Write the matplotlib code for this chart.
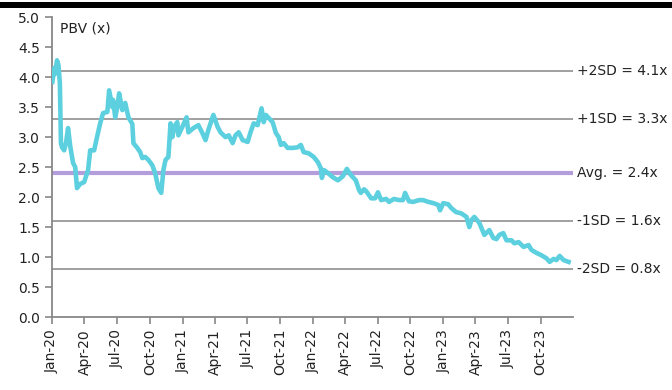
import matplotlib
matplotlib.use('Agg')
import matplotlib.pyplot as plt
import matplotlib.dates as mdates
import pandas as pd

# PBV history (x), sampled off the daily series
dates=['2020-01-02','2020-01-07','2020-01-09','2020-01-15','2020-01-19','2020-01-23','2020-01-26','2020-01-29',
	'2020-02-04','2020-02-09','2020-02-15','2020-02-21','2020-02-29','2020-03-06','2020-03-11','2020-03-20',
	'2020-03-31','2020-04-11','2020-04-17','2020-04-28','2020-05-06','2020-05-15','2020-05-23','2020-06-04',
	'2020-06-09','2020-06-18','2020-06-20','2020-06-26','2020-07-02','2020-07-07','2020-07-16','2020-07-24',
	'2020-08-02','2020-08-13','2020-08-16','2020-08-27','2020-09-04','2020-09-10','2020-09-18','2020-09-27',
	'2020-10-08','2020-10-16','2020-10-25','2020-11-02','2020-11-08','2020-11-14','2020-11-22','2020-11-28',
	'2020-12-03','2020-12-09','2020-12-17','2020-12-20','2020-12-31','2021-01-12','2021-01-17','2021-01-31',
	'2021-02-14','2021-02-25','2021-03-06','2021-03-14','2021-03-28','2021-04-09','2021-04-17','2021-05-01',
	'2021-05-10','2021-05-21','2021-05-29','2021-06-07','2021-06-18','2021-07-02','2021-07-10','2021-07-19',
	'2021-07-30','2021-08-10','2021-08-16','2021-08-22','2021-08-30','2021-09-10','2021-09-19','2021-09-27',
	'2021-10-03','2021-10-11','2021-10-22','2021-11-05','2021-11-19','2021-11-28','2021-12-06','2021-12-20',
	'2022-01-03','2022-01-15','2022-01-23','2022-01-26','2022-02-01','2022-02-12','2022-02-26','2022-03-12',
	'2022-03-26','2022-04-06','2022-04-17','2022-05-01','2022-05-10','2022-05-15','2022-05-24','2022-05-30',
	'2022-06-13','2022-06-24','2022-07-02','2022-07-11','2022-07-25','2022-08-02','2022-08-16','2022-08-30',
	'2022-09-10','2022-09-16','2022-09-27','2022-10-09','2022-10-25','2022-11-06','2022-11-20','2022-12-04',
	'2022-12-18','2022-12-23','2023-01-01','2023-01-15','2023-01-23','2023-02-06','2023-02-20','2023-03-07',
	'2023-03-15','2023-03-21','2023-03-29','2023-04-12','2023-04-26','2023-05-10','2023-05-21','2023-05-30',
	'2023-06-07','2023-06-18','2023-06-27','2023-07-11','2023-07-19','2023-07-31','2023-08-14','2023-08-28',
	'2023-09-05','2023-09-19','2023-10-03','2023-10-17','2023-10-26','2023-11-06','2023-11-14','2023-11-23',
	'2023-12-04','2023-12-18']
pbv=[3.92,4.15,4.05,4.28,4.2,3.9,2.9,2.83,
	2.78,2.9,3.15,2.85,2.57,2.5,2.15,2.22,
	2.25,2.45,2.78,2.78,3.0,3.23,3.4,3.42,
	3.78,3.5,3.62,3.33,3.5,3.73,3.45,3.57,
	3.33,3.22,2.9,2.82,2.75,2.65,2.67,2.62,
	2.53,2.4,2.15,2.07,2.45,2.62,2.67,3.23,
	3.0,3.18,3.25,3.03,3.17,3.33,3.08,3.15,
	3.2,3.07,2.95,3.12,3.37,3.17,3.08,3.0,
	3.03,2.9,3.03,3.08,2.95,2.92,3.08,3.23,
	3.2,3.48,3.25,3.37,3.32,3.25,3.07,3.0,
	2.87,2.9,2.82,2.82,2.83,2.87,2.75,2.73,
	2.67,2.58,2.48,2.32,2.45,2.4,2.33,2.28,
	2.35,2.47,2.37,2.28,2.12,2.07,2.13,2.1,
	1.98,1.98,2.08,1.95,1.97,1.92,1.97,1.95,
	1.95,2.07,1.93,1.92,1.95,1.95,1.92,1.9,
	1.87,1.78,1.9,1.88,1.82,1.75,1.73,1.67,
	1.5,1.62,1.67,1.57,1.37,1.45,1.32,1.3,
	1.37,1.4,1.28,1.28,1.23,1.25,1.17,1.2,
	1.12,1.07,1.03,0.98,0.92,0.97,0.95,1.02,
	0.95,0.92]

# mean and +/- standard deviation bands
bands=[4.1,3.3,2.4,1.6,0.8]
band_labels=['+2SD = 4.1x','+1SD = 3.3x','Avg. = 2.4x','-1SD = 1.6x','-2SD = 0.8x']

plt.rcParams['font.family']=['DejaVu Sans']
fig=plt.figure(figsize=(6.72,3.9),dpi=100)
ax=fig.add_axes([0.0774,0.187,0.7756,0.769])

x=pd.to_datetime(dates)
for lvl,lab in zip(bands,band_labels):
	if lab.startswith('Avg'):
		ax.axhline(lvl,color='#b39ddb',lw=3,zorder=2)
	else:
		ax.axhline(lvl,color='#999999',lw=1.3,zorder=1)
	ax.text(1.008,lvl,lab,transform=ax.get_yaxis_transform(),va='center',ha='left',fontsize=10,color='#222222')
ax.plot(x,pbv,color='#5dd0df',lw=3.3,solid_joinstyle='round',zorder=3)

ax.set_ylim(0,5)
ax.set_yticks([i*0.5 for i in range(11)])
ax.yaxis.set_major_formatter(matplotlib.ticker.FormatStrFormatter('%.1f'))
ax.set_xlim(pd.Timestamp('2020-01-01'),pd.Timestamp('2023-12-31'))
ax.xaxis.set_major_locator(mdates.MonthLocator(bymonth=[1,4,7,10]))
ax.xaxis.set_major_formatter(mdates.DateFormatter('%b-%y'))
plt.setp(ax.get_xticklabels(),rotation=90)
for s in ['top','right']:
	ax.spines[s].set_visible(False)
for s in ['left','bottom']:
	ax.spines[s].set_color('#888888')
	ax.spines[s].set_linewidth(1.3)
ax.tick_params(colors='#888888',labelcolor='#222222',labelsize=10,length=5,width=1.2)
ax.text(0.015,0.985,'PBV (x)',transform=ax.transAxes,va='top',ha='left',fontsize=10,color='#222222')

# black rule across the top
fig.add_artist(plt.Rectangle((0,1-8/390),1,6/390,transform=fig.transFigure,color='black',lw=0))

fig.savefig('out.png',dpi=100)
